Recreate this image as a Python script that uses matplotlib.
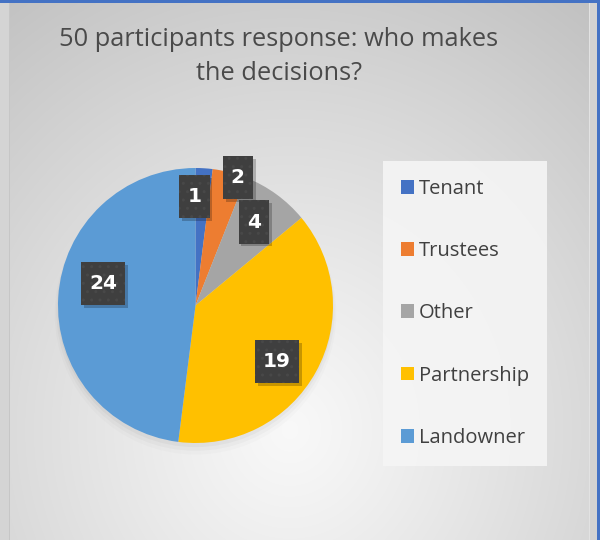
import numpy as np
import matplotlib
matplotlib.use("Agg")
import matplotlib.pyplot as plt
import matplotlib.patheffects as pe
from matplotlib.patches import Rectangle
from matplotlib.path import Path

# Survey answers
categories = ["Tenant", "Trustees", "Other", "Partnership", "Landowner"]
counts = [1, 2, 4, 19, 24]
title_lines = ["50 participants response: who makes", "the decisions?"]

colors = ["#4472C4", "#ED7D31", "#A5A5A5", "#FFC000", "#5B9BD5"]
# label placement per slice: fraction of radius, clockwise nudge (deg) from slice middle
label_radius = [0.79, 0.98, 0.74, 0.72, 0.69]
label_nudge = [-4.1, 3.9, -1.1, 5.9, 9.8]

W, H = 600, 540
fig = plt.figure(figsize=(W / 100, H / 100), dpi=100)
fig.patch.set_facecolor("#d3d3d3")

# ---- chart-area background: soft radial gradient ----
bg = fig.add_axes([0, 0, 1, 1], zorder=0)
yy, xx = np.mgrid[0:H, 0:W] + 0.5
r = np.sqrt(((xx - 290) / 420.0) ** 2 + ((yy - 430) / 450.0) ** 2)
v = 0.975 - 0.18 * np.clip(r, 0, 1.3) ** 1.1
img = np.dstack([v, v, v])
bg.imshow(img, extent=(0, W, H, 0), interpolation="bilinear")
bg.set_xlim(0, W)
bg.set_ylim(H, 0)
bg.axis("off")
# frame strips
bg.add_patch(Rectangle((0, 0), 10, H, color="#d4d4d4", lw=0))
bg.add_patch(Rectangle((9, 0), 1.2, H, color="#c6c6c6", lw=0))
bg.add_patch(Rectangle((589, 0), 8, H, color="#d2d2d2", lw=0))
bg.add_patch(Rectangle((589, 0), 1, H, color="#e2e2e2", lw=0))
bg.add_patch(Rectangle((0, 0), W, 2.5, color="#4472C4", lw=0))
bg.add_patch(Rectangle((597, 0), 3, H, color="#4472C4", lw=0))

# ---- title ----
for line, base in zip(title_lines, [46, 80]):
    fig.text(279 / W, 1 - base / H, line, ha="center", va="baseline",
             fontsize=18.3, color="#4a4a4a", family="Open Sans")

# ---- pie ----
cx, cy, rad = 195.5, 305.5, 137.5
ax = fig.add_axes([(cx - rad) / W, (H - cy - rad) / H, 2 * rad / W, 2 * rad / H], zorder=2)
wedges, _ = ax.pie(counts, colors=colors, startangle=90, counterclock=False,
                   radius=1.0, wedgeprops=dict(linewidth=0))
ax.set_xlim(-1, 1)
ax.set_ylim(-1, 1)
ax.set_aspect("equal")
ax.axis("off")

# faint shadow under the pie
for k, a in enumerate([0.03, 0.022, 0.015]):
    sh = plt.Circle((0, -0.03 - 0.015 * k), 1.0 + 0.012 * k, color="black", alpha=a,
                    lw=0, zorder=0, transform=ax.transData, clip_on=False)
    ax.add_patch(sh)


def label_box(x0, y0, width, height, mutation_size, xpad=0.4, ypad=0.6):
    """Rectangle around the text with separate horizontal and vertical padding."""
    px, py = xpad * mutation_size, ypad * mutation_size
    x0, y0 = x0 - px, y0 - py
    x1, y1 = x0 + width + 2 * px, y0 + height + 2 * py
    return Path([(x0, y0), (x1, y0), (x1, y1), (x0, y1), (x0, y0)],
                [Path.MOVETO, Path.LINETO, Path.LINETO, Path.LINETO, Path.CLOSEPOLY])


class PlainShadow(pe.SimplePatchShadow):
    """Drop shadow that ignores the patch hatch."""
    def draw_path(self, renderer, gc, tpath, affine, rgbFace):
        gc0 = renderer.new_gc()
        gc0.copy_properties(gc)
        gc0.set_hatch(None)
        super().draw_path(renderer, gc0, tpath, affine, rgbFace)
        gc0.restore()


# ---- data labels ----
for w, n, fr, nud in zip(wedges, counts, label_radius, label_nudge):
    mid = np.deg2rad((w.theta1 + w.theta2) / 2 - nud)
    x, y = fr * np.cos(mid), fr * np.sin(mid)
    t = ax.text(x, y, str(n), ha="center", va="center", fontsize=14.5,
                fontweight="bold", color="white", family="DejaVu Sans", zorder=5,
                bbox=dict(boxstyle=label_box, facecolor="#3f3f3f",
                          edgecolor="#484848", linewidth=0, hatch=".."))
    t.get_bbox_patch().set_path_effects([
        PlainShadow(offset=(2, -2), shadow_rgbFace="black", alpha=0.22),
        pe.Normal()])

# ---- legend ----
leg = fig.legend(wedges, categories, loc="upper left",
                 bbox_to_anchor=(383 / W, 1 - 161 / H), bbox_transform=fig.transFigure,
                 borderaxespad=0, borderpad=0.88, labelspacing=2.1,
                 handlelength=0.67, handleheight=0.67, handletextpad=0.25,
                 frameon=True, fancybox=False,
                 prop=dict(family="Open Sans", size=14.5))
leg.get_frame().set_facecolor("#f5f5f5")
leg.get_frame().set_alpha(0.9)
leg.get_frame().set_linewidth(0)
for txt in leg.get_texts():
    txt.set_color("#404040")
leg.set_zorder(3)

fig.savefig("out.png", dpi=100)
